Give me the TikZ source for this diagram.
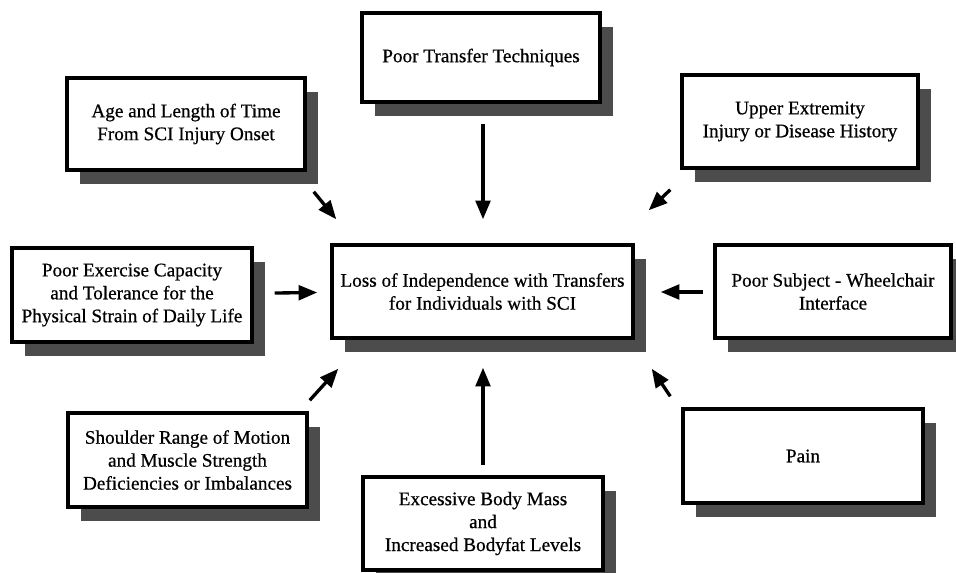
\documentclass[tikz,border=0pt]{standalone}
\usepackage{fontspec}
\setmainfont{Liberation Serif}
\newfontfamily\boxfont[FakeBold=0.6]{Liberation Serif}
\usetikzlibrary{shadows,arrows.meta}
\begin{document}
\begin{tikzpicture}[x=0.75pt,y=-0.75pt,
  box/.style={draw=black, line width=2.6pt, fill=white, align=center, inner sep=2pt,
    font=\boxfont\fontsize{14.4}{17.2}\selectfont,
    drop shadow={shadow xshift=10pt, shadow yshift=-10.5pt, fill=black!70, opacity=1}},
  conn/.style={line width=2.5pt, -{Triangle[length=14pt,width=11pt]}}]
\useasboundingbox (0,0) rectangle (956,572);
\fill[white] (0,0) rectangle (956,572);

\node[box, minimum width=178.5pt, minimum height=69pt] (age) at (186,124) {Age and Length of Time\\From SCI Injury Onset};
\node[box, minimum width=178.5pt, minimum height=66.75pt] (trans) at (481,57.5) {Poor Transfer Techniques};
\node[box, minimum width=177pt, minimum height=69.75pt] (upper) at (800,121.5) {Upper Extremity\\Injury or Disease History};
\node[box, minimum width=180pt, minimum height=70.5pt] (exer) at (132,295) {Poor Exercise Capacity\\and Tolerance for the\\Physical Strain of Daily Life};
\node[box, minimum width=225.75pt, minimum height=69.75pt] (center) at (482.5,291.5) {Loss of Independence with Transfers\\for Individuals with SCI};
\node[box, minimum width=177pt, minimum height=69.75pt] (subj) at (833,291.5) {Poor Subject - Wheelchair\\Interface};
\node[box, minimum width=179.25pt, minimum height=70.5pt] (shoulder) at (187.5,460) {Shoulder Range of Motion\\and Muscle Strength\\Deficiencies or Imbalances};
\node[box, minimum width=180pt, minimum height=69.75pt] (excess) at (483,523.5) {Excessive Body Mass\\and\\Increased Bodyfat Levels};
\node[box, minimum width=180pt, minimum height=70.5pt] (pain) at (803,456) {Pain};

\draw[conn] ([shift={(7,20)}]age.south east) -- ([shift={(6,-24)}]center.north west);
\draw[conn] ([shift={(2,20)}]trans.south) -- ([shift={(0.5,-24)}]center.north);
\draw[conn] ([shift={(-10,20)}]upper.south west) -- ([shift={(14,-33)}]center.north east);
\draw[conn] ([shift={(21,-2)}]exer.east) -- ([shift={(-13,1)}]center.west);
\draw[conn] ([shift={(-10,0.5)}]subj.west) -- ([shift={(26,0.5)}]center.east);
\draw[conn] ([shift={(1,-11)}]shoulder.north east) -- ([shift={(8,29)}]center.south west);
\draw[conn] ([shift={(0,-10)}]excess.north) -- ([shift={(0.5,28)}]center.south);
\draw[conn] ([shift={(-11,-11)}]pain.north west) -- ([shift={(17,29)}]center.south east);
\end{tikzpicture}
\end{document}
